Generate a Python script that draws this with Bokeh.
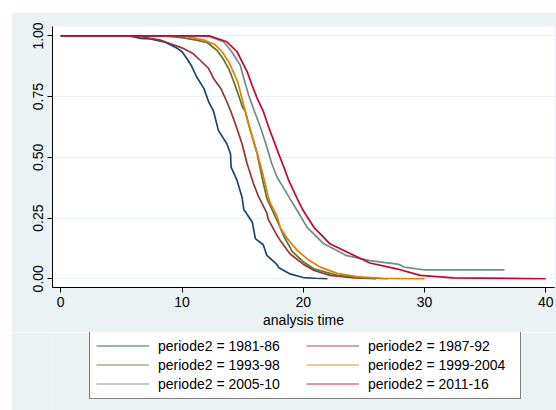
from bokeh.plotting import figure
from bokeh.models import Range1d, FixedTicker, Legend, LegendItem, Spacer, NumeralTickFormatter
from bokeh.layouts import column, row
from bokeh.embed import file_html
from bokeh.resources import INLINE

labels = ["periode2 = 1981-86", "periode2 = 1987-92", "periode2 = 1993-98",
          "periode2 = 1999-2004", "periode2 = 2005-10", "periode2 = 2011-16"]
colors = ["#1a476f", "#90353b", "#55752f", "#e37e00", "#6e8e84", "#c10534"]

x_ticks = [0, 10, 20, 30, 40]
y_ticks = [0.0, 0.25, 0.5, 0.75, 1.0]

t_1981 = [0, 5.6, 6.6, 7.4, 8.5, 9.0, 9.6, 10.0, 10.4, 10.8, 11.2, 11.8, 12.2, 12.6, 13.0,
          13.7, 14.0, 14.05, 14.54, 14.95, 15.1, 15.8, 16.05, 16.7, 17.0, 17.8, 18.0, 18.9,
          20.0, 21.0, 22.0]
s_1981 = [1.0, 1.0, 0.99, 0.988, 0.976, 0.965, 0.949, 0.935, 0.907, 0.875, 0.832, 0.784,
          0.729, 0.69, 0.611, 0.556, 0.515, 0.46, 0.405, 0.336, 0.285, 0.233, 0.165, 0.14,
          0.096, 0.06, 0.045, 0.02, 0.005, 0.002, 0.0]

t_1987 = [0, 6.3, 7.4, 8.2, 9.0, 10.0, 10.9, 11.5, 12.2, 12.6, 13.2, 13.7, 14.0, 14.4, 14.95,
          15.37, 15.9, 16.3, 17.0, 17.1, 17.84, 18.1, 18.9, 20.0, 20.9, 22.2, 24.2, 26.0]
s_1987 = [1.0, 1.0, 0.99, 0.983, 0.969, 0.951, 0.928, 0.9, 0.866, 0.825, 0.784, 0.729, 0.693,
          0.638, 0.556, 0.474, 0.391, 0.34, 0.27, 0.247, 0.178, 0.158, 0.103, 0.06, 0.034,
          0.014, 0.004, 0.0]

t_1993 = [0, 8.5, 10.0, 11.2, 12.1, 12.9, 13.4, 13.9, 14.3, 14.6, 15.0, 15.2, 15.64, 16.2,
          16.6, 17.0, 17.84, 18.4, 19.1, 20.0, 20.86, 22.8, 25.0, 27.0]
s_1993 = [1.0, 1.0, 0.993, 0.983, 0.972, 0.94, 0.905, 0.86, 0.808, 0.765, 0.705, 0.693,
          0.611, 0.515, 0.418, 0.33, 0.24, 0.175, 0.112, 0.07, 0.041, 0.014, 0.004, 0.0]

t_1999 = [0, 10.2, 11.8, 12.7, 13.3, 13.85, 14.25, 14.6, 14.8, 15.2, 15.4, 15.7, 16.25, 16.7,
          17.1, 17.3, 17.84, 18.1, 18.7, 19.5, 20.45, 21.4, 22.8, 24.4, 26.4, 30.0]
s_1999 = [1.0, 1.0, 0.983, 0.965, 0.935, 0.894, 0.85, 0.81, 0.77, 0.693, 0.652, 0.6, 0.51,
          0.425, 0.34, 0.31, 0.258, 0.21, 0.165, 0.117, 0.077, 0.048, 0.022, 0.009, 0.002, 0.0]

t_2005 = [0, 11.5, 12.3, 13.44, 14.1, 14.8, 15.1, 15.5, 15.95, 16.5, 16.95, 17.4, 17.84, 18.5,
          18.9, 19.5, 20.3, 21.7, 23.6, 25.5, 27.9, 28.3, 29.9, 36.6]
s_2005 = [1.0, 1.0, 0.997, 0.976, 0.935, 0.88, 0.825, 0.756, 0.693, 0.62, 0.55, 0.475, 0.418,
          0.364, 0.33, 0.281, 0.213, 0.144, 0.095, 0.075, 0.059, 0.048, 0.037, 0.037]

t_2011 = [0, 12.3, 13.7, 14.54, 14.95, 15.37, 15.78, 16.2, 16.7, 17.15, 17.56, 17.97, 18.4,
          18.8, 19.5, 20.0, 20.86, 22.2, 23.9, 25.5, 27.7, 29.65, 32.4, 40.0]
s_2011 = [1.0, 1.0, 0.976, 0.935, 0.894, 0.853, 0.797, 0.743, 0.69, 0.624, 0.57, 0.515, 0.46,
          0.405, 0.33, 0.281, 0.213, 0.144, 0.103, 0.065, 0.041, 0.014, 0.004, 0.0]

series = [(t_1981, s_1981), (t_1987, s_1987), (t_1993, s_1993),
          (t_1999, s_1999), (t_2005, s_2005), (t_2011, s_2011)]

BG = "#EAF2F3"
FONT = "Liberation Sans"

# main plot: absolute y 12..332
p = figure(width=545, height=320, output_backend="svg", toolbar_location=None,
           x_range=Range1d(-0.68, 40.72), y_range=Range1d(-0.036, 1.039),
           min_border_left=41, min_border_right=2, min_border_top=14, min_border_bottom=45,
           border_fill_color=BG, background_fill_color="white", outline_line_color=None)

for (t, s), c in zip(series, colors):
    p.line(t, s, line_color=c, line_width=1.7)

p.xaxis.ticker = FixedTicker(ticks=x_ticks)
p.yaxis.ticker = FixedTicker(ticks=y_ticks)
p.yaxis.formatter = NumeralTickFormatter(format="0.00")
p.yaxis.major_label_orientation = "vertical"
p.xaxis.axis_label = "analysis time"
for ax in (p.xaxis[0], p.yaxis[0]):
    ax.axis_line_color = "black"
    ax.axis_line_width = 1
    ax.major_tick_line_color = "black"
    ax.major_tick_out = 5
    ax.major_tick_in = 0
    ax.minor_tick_out = 0
    ax.minor_tick_in = 0
    ax.major_label_text_font = FONT
    ax.major_label_text_font_size = "14px"
    ax.major_label_text_color = "black"
    ax.major_label_standoff = 4
    ax.axis_label_text_font = FONT
    ax.axis_label_text_font_size = "14px"
    ax.axis_label_text_font_style = "normal"
    ax.axis_label_text_color = "black"
    ax.axis_label_standoff = 2

p.xgrid.visible = False
p.ygrid.ticker = FixedTicker(ticks=y_ticks)
p.ygrid.grid_line_color = BG
p.ygrid.grid_line_width = 1.2

# legend figure: absolute y 332..410 (its ranges keep the series out of view)
q = figure(width=545, height=78, output_backend="svg", toolbar_location=None,
           x_range=Range1d(0, 1), y_range=Range1d(10, 11),
           x_axis_type=None, y_axis_type=None,
           min_border_left=0, min_border_right=0, min_border_top=0, min_border_bottom=0,
           border_fill_color=BG, background_fill_color=BG, outline_line_color=None)
q.xgrid.visible = False
q.ygrid.visible = False

items = []
for (t, s), lab, c in zip(series, labels, colors):
    r = q.line(t, s, line_color=c, line_width=1.1, line_alpha=0.85)
    items.append(LegendItem(label=lab, renderers=[r]))

legend = Legend(items=items, location=(37, 11), orientation="horizontal", ncols=2,
                border_line_color="black", border_line_width=1,
                background_fill_color="white", background_fill_alpha=1.0,
                label_text_font=FONT, label_text_font_size="14px", label_text_color="black",
                glyph_width=53, glyph_height=15, label_standoff=9, label_height=17,
                label_width=146, spacing=2, padding=6, margin=0)
q.add_layout(legend, "center")

layout = column(Spacer(height=12), row(Spacer(width=11), column(p, q)))
open("out.html", "w").write(file_html(layout, INLINE))
